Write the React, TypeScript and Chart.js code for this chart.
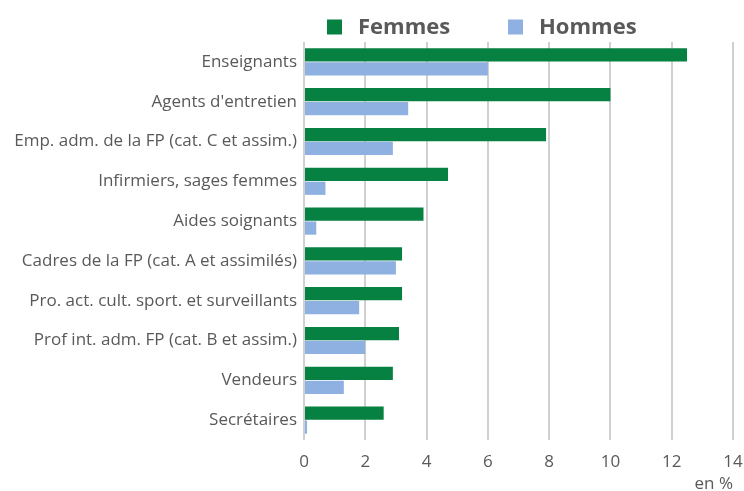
import React, { useEffect, useRef } from "react";
import { Chart, registerables } from "chart.js";

Chart.register(...registerables);

const categories = [
  "Enseignants",
  "Agents d'entretien",
  "Emp. adm. de la FP (cat. C et assim.)",
  "Infirmiers, sages femmes",
  "Aides soignants",
  "Cadres de la FP (cat. A et assimilés)",
  "Pro. act. cult. sport. et surveillants",
  "Prof int. adm. FP (cat. B et assim.)",
  "Vendeurs",
  "Secrétaires",
];
const femmes = [12.5, 10.0, 7.9, 4.7, 3.9, 3.2, 3.2, 3.1, 2.9, 2.6];
const hommes = [6.0, 3.4, 2.9, 0.7, 0.4, 3.0, 1.8, 2.0, 1.3, 0.1];
const seriesLabels = ["Femmes", "Hommes"];
const seriesColors = ["#078142", "#8EB1E1"];
const xTicks = [0, 2, 4, 6, 8, 10, 12, 14];

const FONT = "'Open Sans', sans-serif";
const TEXT = "#595959";

const legendPlugin = {
  id: "customLegend",
  afterDraw(chart: any) {
    const ctx = chart.ctx;
    const left = chart.chartArea.left;
    const offsets = [23, 204];
    ctx.save();
    chart.data.datasets.forEach((ds: any, i: number) => {
      const x = left + offsets[i];
      ctx.fillStyle = ds.backgroundColor;
      ctx.fillRect(x, 19.5, 15, 15);
      ctx.fillStyle = TEXT;
      ctx.font = `bold 22px ${FONT}`;
      ctx.textBaseline = "middle";
      ctx.textAlign = "left";
      ctx.fillText(ds.label, x + 31, 28);
    });
    ctx.restore();
  },
};

export default function App() {
  const ref = useRef<HTMLCanvasElement>(null);
  useEffect(() => {
    document.body.style.margin = "0";
    const chart = new Chart(ref.current!, {
      type: "bar",
      data: {
        labels: categories,
        datasets: [
          { label: seriesLabels[0], data: femmes, backgroundColor: seriesColors[0] },
          { label: seriesLabels[1], data: hommes, backgroundColor: seriesColors[1] },
        ],
      },
      options: {
        indexAxis: "y",
        responsive: false,
        animation: false,
        layout: { padding: { top: 42, right: 11, left: 0, bottom: 0 } },
        datasets: { bar: { categoryPercentage: 0.7, barPercentage: 0.95 } },
        plugins: { legend: { display: false }, tooltip: { enabled: false } },
        scales: {
          x: {
            min: 0,
            max: 14,
            afterBuildTicks: (scale: any) => {
              scale.ticks = xTicks.map((v) => ({ value: v }));
            },
            afterFit: (scale: any) => {
              scale.height = 51;
              scale.paddingLeft = 0;
              scale.paddingRight = 0;
            },
            grid: { color: "#d0d0d0", lineWidth: 2, drawTicks: false },
            border: { display: false },
            ticks: { color: TEXT, font: { family: FONT, size: 17 }, padding: 12 },
            title: {
              display: true,
              text: "en %",
              align: "end",
              color: TEXT,
              font: { family: FONT, size: 17 },
              padding: { top: 0, bottom: -3 },
            },
          },
          y: {
            afterFit: (scale: any) => {
              scale.width = 304;
              scale.paddingTop = 0;
              scale.paddingBottom = 0;
            },
            grid: { display: false, drawTicks: false },
            border: { display: false },
            ticks: { color: TEXT, font: { family: FONT, size: 17 }, padding: 7 },
          },
        },
      },
      plugins: [legendPlugin],
    });
    return () => chart.destroy();
  }, []);
  return (
    <div style={{ width: 744, height: 491 }}>
      <canvas ref={ref} width={744} height={491} />
    </div>
  );
}
